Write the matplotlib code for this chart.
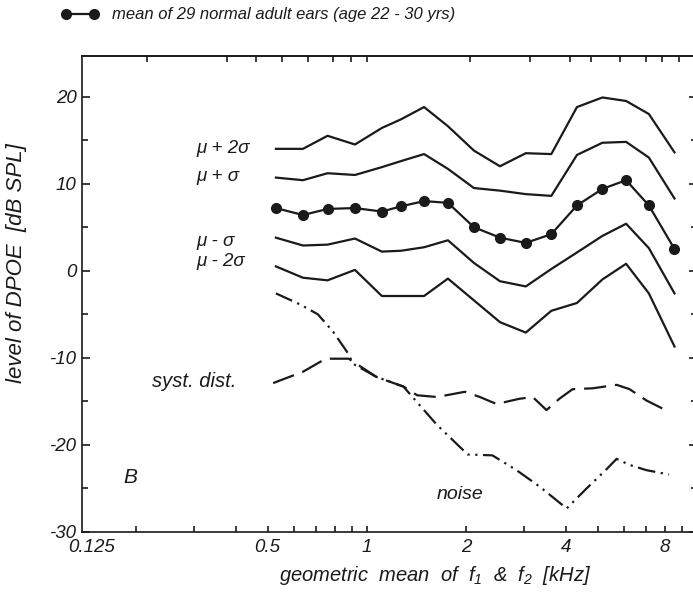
import matplotlib
matplotlib.use('Agg')
import matplotlib.pyplot as plt
from matplotlib.ticker import FixedLocator, LogLocator, NullFormatter, NullLocator, MultipleLocator

plt.rcParams['font.family'] = ['Liberation Sans', 'DejaVu Sans']
plt.rcParams['font.style'] = 'italic'
plt.rcParams['axes.unicode_minus'] = False
plt.rcParams['mathtext.fontset'] = 'custom'
plt.rcParams['mathtext.it'] = 'Liberation Sans:italic'
plt.rcParams['mathtext.rm'] = 'Liberation Sans:italic'

# geometric mean of f1 & f2 [kHz]
freq_khz = [0.53, 0.64, 0.76, 0.92, 1.11, 1.27, 1.49, 1.76, 2.11, 2.53,
            3.03, 3.62, 4.33, 5.17, 6.1, 7.15, 8.55]
mean_db = [7.2, 6.4, 7.1, 7.2, 6.8, 7.4, 8.0, 7.8, 5.0, 3.8,
           3.2, 4.2, 7.5, 9.4, 10.4, 7.5, 2.5]
plus2s_db = [14.0, 14.0, 15.5, 14.5, 16.4, 17.4, 18.8, 16.6, 13.8, 12.0,
             13.5, 13.4, 18.8, 19.9, 19.5, 18.0, 13.6]
plus1s_db = [10.7, 10.4, 11.2, 11.0, 11.9, 12.6, 13.4, 11.7, 9.5, 9.2,
             8.8, 8.6, 13.3, 14.7, 14.8, 13.0, 8.3]
minus1s_db = [3.8, 2.9, 3.0, 3.7, 2.2, 2.3, 2.7, 3.5, 0.9, -1.2,
              -1.8, 0.2, 2.1, 4.0, 5.4, 2.6, -2.6]
minus2s_db = [0.5, -0.8, -1.1, 0.1, -2.9, -2.9, -2.9, -0.9, -3.4, -5.9,
              -7.1, -4.6, -3.7, -1.0, 0.8, -2.6, -8.7]

syst_freq = [0.52, 0.64, 0.75, 0.88, 1.07, 1.29, 1.42, 1.63, 1.98, 2.2, 2.47,
             2.9, 3.18, 3.5, 3.83, 4.2, 4.83, 5.71, 6.25, 7.03, 8.23]
syst_db = [-12.9, -11.6, -10.1, -10.1, -12.2, -13.3, -14.3, -14.5, -13.9, -14.5, -15.3,
           -14.7, -14.5, -16.0, -14.7, -13.6, -13.5, -13.1, -13.6, -14.9, -16.2]

noise_freq = [0.53, 0.63, 0.71, 0.79, 0.87, 0.91, 1.07, 1.29, 1.63, 2.02,
              2.4, 2.84, 3.34, 4.03, 4.63, 5.32, 5.71, 6.25, 7.03, 8.23]
noise_db = [-2.6, -3.9, -5.0, -7.0, -9.3, -10.7, -12.2, -13.3, -17.7, -21.1,
            -21.2, -22.9, -24.8, -27.3, -25.0, -22.8, -21.6, -22.3, -22.9, -23.4]

x_ticks = [0.5, 1, 2, 4, 8]
x_ticklabels = ['0.5', '1', '2', '4', '8']
# tick marks along the top frame (not at the same places as the bottom ones)
top_ticks = [0.216, 0.377, 0.462, 0.553, 0.663, 0.789, 0.895, 1.0,
             2.06, 3.11, 4.11, 4.76, 5.83, 6.99, 7.86, 8.85]

ink = '#1a1a1a'
lw = 1.6

fig = plt.figure(figsize=(6.93, 5.93), dpi=100)
ax = fig.add_axes([0.1183, 0.1029, 0.8874, 0.8032])

for band in (plus2s_db, plus1s_db, minus1s_db, minus2s_db):
    ax.plot(freq_khz, band, color=ink, lw=lw)
mean_line, = ax.plot(freq_khz, mean_db, color=ink, lw=lw, marker='o', ms=7,
                     label='mean of 29 normal adult ears (age 22 - 30 yrs)')
ax.plot(syst_freq, syst_db, color=ink, lw=lw, linestyle=(0, (10, 4)))
ax.plot(noise_freq, noise_db, color=ink, lw=lw, linestyle=(0, (8, 2.5, 1, 2.5, 1, 2.5)))

ax.set_xscale('log')
ax.set_xlim(0.137, 10)
ax.set_ylim(-30, 24.7)

ax.xaxis.set_major_locator(FixedLocator(x_ticks))
ax.set_xticklabels(x_ticklabels)
ax.xaxis.set_minor_locator(LogLocator(base=10, subs=range(2, 10)))
ax.xaxis.set_minor_formatter(NullFormatter())
ax.yaxis.set_major_locator(MultipleLocator(10))
ax.yaxis.set_minor_locator(MultipleLocator(5))

ax.tick_params(axis='both', which='both', direction='in', color=ink, width=1.2,
               labelsize=13.5, labelcolor=ink)
ax.tick_params(axis='y', which='both', right=True)
ax.tick_params(axis='y', which='major', length=6, pad=4)
ax.tick_params(axis='y', which='minor', length=4.5)
ax.tick_params(axis='x', which='both', length=4.5, pad=5, top=False)
for sp in ax.spines.values():
    sp.set_linewidth(1.2)
    sp.set_color(ink)

secax = ax.secondary_xaxis('top')
secax.xaxis.set_major_locator(FixedLocator(top_ticks))
secax.xaxis.set_minor_locator(NullLocator())
secax.xaxis.set_major_formatter(NullFormatter())
secax.tick_params(direction='in', length=4.5, width=1.2, color=ink)
secax.spines['top'].set_linewidth(1.2)
secax.spines['top'].set_color(ink)

ax.text(-0.022, -0.015, '0.125', transform=ax.transAxes, ha='left', va='top',
        fontsize=13.5, color=ink)

ax.set_xlabel(r'geometric  mean  of  $f_1$  &  $f_2$  [kHz]', fontsize=14.5, color=ink)
ax.xaxis.set_label_coords(0.575, -0.068)
ax.set_ylabel('level of DPOE  [dB SPL]', fontsize=16, color=ink)
ax.yaxis.set_label_coords(-0.09, 0.565)

ax.text(0.305, 14.0, 'μ + 2σ', fontsize=13.5, color=ink, va='center')
ax.text(0.305, 10.8, 'μ + σ', fontsize=13.5, color=ink, va='center')
ax.text(0.305, 3.4, 'μ - σ', fontsize=13.5, color=ink, va='center')
ax.text(0.305, 1.1, 'μ - 2σ', fontsize=13.5, color=ink, va='center')
ax.text(0.224, -12.7, 'syst. dist.', fontsize=14.5, color=ink, va='center')
ax.text(0.183, -23.7, 'B', fontsize=15, color=ink, va='center')
ax.text(1.63, -25.7, 'noise', fontsize=14, color=ink, va='center')

fig.legend(handles=[mean_line], loc='center left', bbox_to_anchor=(61 / 693, 1 - 15 / 593),
           frameon=False, numpoints=2, handlelength=2.3, handletextpad=0.75,
           borderpad=0, borderaxespad=0, fontsize=12, labelcolor=ink)

fig.savefig('out.png', dpi=100)
